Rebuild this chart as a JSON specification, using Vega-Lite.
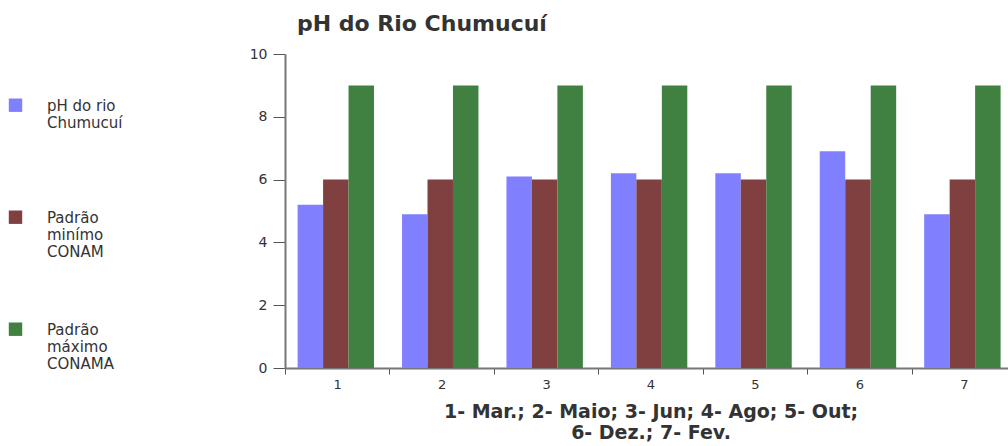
{
  "$schema": "https://vega.github.io/schema/vega-lite/v6.json",
  "autosize": "none",
  "width": 723,
  "height": 314,
  "padding": {"left": 285, "top": 54, "right": 0, "bottom": 78},
  "background": "white",
  "config": {"view": {"stroke": null}, "font": "DejaVu Sans"},
  "title": {
    "text": "pH do Rio Chumucuí",
    "anchor": "start",
    "frame": "group",
    "dx": 12,
    "offset": 11,
    "fontSize": 22,
    "fontWeight": "bold",
    "color": "#333333",
    "font": "DejaVu Sans"
  },
  "data": {
    "values": [
      {"mes": "1", "serie": "pH do rio Chumucuí", "valor": 5.2},
      {"mes": "1", "serie": "Padrão minímo CONAM", "valor": 6},
      {"mes": "1", "serie": "Padrão máximo CONAMA", "valor": 9},
      {"mes": "2", "serie": "pH do rio Chumucuí", "valor": 4.9},
      {"mes": "2", "serie": "Padrão minímo CONAM", "valor": 6},
      {"mes": "2", "serie": "Padrão máximo CONAMA", "valor": 9},
      {"mes": "3", "serie": "pH do rio Chumucuí", "valor": 6.1},
      {"mes": "3", "serie": "Padrão minímo CONAM", "valor": 6},
      {"mes": "3", "serie": "Padrão máximo CONAMA", "valor": 9},
      {"mes": "4", "serie": "pH do rio Chumucuí", "valor": 6.2},
      {"mes": "4", "serie": "Padrão minímo CONAM", "valor": 6},
      {"mes": "4", "serie": "Padrão máximo CONAMA", "valor": 9},
      {"mes": "5", "serie": "pH do rio Chumucuí", "valor": 6.2},
      {"mes": "5", "serie": "Padrão minímo CONAM", "valor": 6},
      {"mes": "5", "serie": "Padrão máximo CONAMA", "valor": 9},
      {"mes": "6", "serie": "pH do rio Chumucuí", "valor": 6.9},
      {"mes": "6", "serie": "Padrão minímo CONAM", "valor": 6},
      {"mes": "6", "serie": "Padrão máximo CONAMA", "valor": 9},
      {"mes": "7", "serie": "pH do rio Chumucuí", "valor": 4.9},
      {"mes": "7", "serie": "Padrão minímo CONAM", "valor": 6},
      {"mes": "7", "serie": "Padrão máximo CONAMA", "valor": 9}
    ]
  },
  "mark": {"type": "bar"},
  "encoding": {
    "x": {
      "field": "mes",
      "type": "nominal",
      "scale": {"range": [0, 731], "paddingInner": 0, "paddingOuter": 0},
      "axis": {
        "title": ["1- Mar.; 2- Maio; 3- Jun; 4- Ago; 5- Out;", "6- Dez.; 7- Fev."],
        "titleFont": "DejaVu Sans",
        "titleFontSize": 19,
        "titleFontWeight": "bold",
        "titleColor": "#333333",
        "titlePadding": 11,
        "titleLineHeight": 21,
        "labelAngle": 0,
        "labelFont": "DejaVu Sans",
        "labelFontSize": 13,
        "labelColor": "#333333",
        "labelPadding": 4,
        "tickBand": "extent",
        "tickSize": 6,
        "tickColor": "#555555",
        "domainColor": "#777777",
        "domainWidth": 2
      }
    },
    "xOffset": {
      "field": "serie",
      "type": "nominal",
      "sort": ["pH do rio Chumucuí", "Padrão minímo CONAM", "Padrão máximo CONAMA"],
      "scale": {"paddingInner": 0, "paddingOuter": 0.55, "align": 0.45}
    },
    "y": {
      "field": "valor",
      "type": "quantitative",
      "scale": {"domain": [0, 10]},
      "axis": {
        "title": null,
        "values": [0, 2, 4, 6, 8, 10],
        "grid": false,
        "labelFont": "DejaVu Sans",
        "labelFontSize": 14,
        "labelColor": "#333333",
        "tickSize": 12,
        "tickColor": "#555555",
        "labelPadding": 6,
        "domainColor": "#777777",
        "domainWidth": 2
      }
    },
    "color": {
      "field": "serie",
      "type": "nominal",
      "scale": {
        "domain": ["pH do rio Chumucuí", "Padrão minímo CONAM", "Padrão máximo CONAMA"],
        "range": ["#8080FF", "#804040", "#408040"]
      },
      "legend": {
        "title": null,
        "orient": "none",
        "legendX": -277,
        "legendY": 37,
        "symbolType": "M-1,0H1V2H-1Z",
        "symbolSize": 180,
        "symbolStrokeWidth": 0,
        "symbolOpacity": 1,
        "labelFont": "DejaVu Sans",
        "labelFontSize": 15,
        "labelColor": "#333333",
        "labelOffset": 24,
        "labelBaseline": "top",
        "labelLimit": 220,
        "rowPadding": 55,
        "labelExpr": "datum.label == 'pH do rio Chumucuí' ? [' pH do rio', 'Chumucuí', ''] : datum.label == 'Padrão minímo CONAM' ? ['Padrão', ' minímo', 'CONAM'] : ['Padrão', 'máximo', 'CONAMA']"
      }
    }
  }
}
